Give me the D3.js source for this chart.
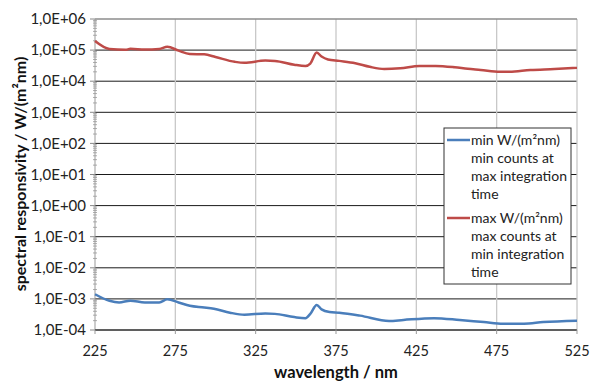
<!DOCTYPE html>
<html>
<head>
<meta charset="utf-8">
<script src="https://d3js.org/d3.v7.min.js"></script>
<style>
  body { margin: 0; background: #fff; }
  svg { display: block; font-family: Lato, "Open Sans", sans-serif; }
</style>
</head>
<body>
<svg id="chart" width="600" height="384"></svg>
<script>
// wavelength (nm) and responsivity values
const maxWave = [225, 234, 244, 247, 256, 265, 270, 277, 284, 293, 300, 312, 318, 331, 337, 349, 356, 359, 363, 366, 370, 377, 387, 396, 405, 415, 427, 437, 449, 457, 465, 477, 483, 496, 511, 525];
const maxVals = [1.95e5, 1.08e5, 1.02e5, 1.1e5, 1.04e5, 1.08e5, 1.28e5, 9.6e4, 7.5e4, 7.3e4, 6.0e4, 4.2e4, 3.9e4, 4.6e4, 4.5e4, 3.4e4, 3.1e4, 3.7e4, 8.3e4, 6.2e4, 5.0e4, 4.5e4, 3.8e4, 2.9e4, 2.46e4, 2.6e4, 3.1e4, 3.1e4, 2.8e4, 2.5e4, 2.3e4, 2.0e4, 2.0e4, 2.3e4, 2.46e4, 2.7e4];

const minWave = [225, 234, 240, 247, 256, 265, 270, 277, 284, 293, 299, 309, 318, 331, 337, 349, 356, 359, 363, 366, 371, 377, 390, 408, 417, 436, 452, 467, 479, 492, 504, 525];
const minVals = [1.41e-3, 8.7e-4, 7.7e-4, 8.8e-4, 7.7e-4, 7.7e-4, 9.7e-4, 7.7e-4, 6.0e-4, 5.3e-4, 4.8e-4, 3.6e-4, 3.1e-4, 3.4e-4, 3.3e-4, 2.6e-4, 2.4e-4, 3.3e-4, 6.4e-4, 4.6e-4, 3.8e-4, 3.6e-4, 2.9e-4, 1.94e-4, 2.1e-4, 2.4e-4, 2.1e-4, 1.8e-4, 1.6e-4, 1.6e-4, 1.8e-4, 2.0e-4];

const xTicks = [225, 275, 325, 375, 425, 475, 525];
const yTicks = [1e-4, 1e-3, 1e-2, 1e-1, 1e0, 1e1, 1e2, 1e3, 1e4, 1e5, 1e6];

const legendMin = ["min W/(m\u00b2nm)", "min counts at", "max integration", "time"];
const legendMax = ["max W/(m\u00b2nm)", "max counts at", "min integration", "time"];

const blue = "#4a7ebb";
const red = "#be4b48";

const svg = d3.select("#chart");
const plotL = 95, plotR = 577, plotT = 19, plotB = 330;

const x = d3.scaleLinear().domain([225, 525]).range([plotL, plotR]);
const y = d3.scaleLog().domain([1e-4, 1e6]).range([plotB, plotT]);

// format like 1,0E+06
function sci(v) {
  const e = Math.round(Math.log10(v));
  const s = e < 0 ? "-" : "+";
  return "1,0E" + s + String(Math.abs(e)).padStart(2, "0");
}

// horizontal grid
svg.append("g")
  .selectAll("line")
  .data(yTicks.slice(0, -1))
  .enter().append("line")
  .attr("x1", plotL).attr("x2", plotR)
  .attr("y1", d => y(d)).attr("y2", d => y(d))
  .attr("stroke", "#1a1a1a").attr("stroke-width", 1);

// vertical grid
svg.append("g")
  .selectAll("line")
  .data(xTicks.slice(1))
  .enter().append("line")
  .attr("x1", d => x(d)).attr("x2", d => x(d))
  .attr("y1", plotT).attr("y2", plotB)
  .attr("stroke", "#c8c8c8").attr("stroke-width", 1.3);

// top border
svg.append("line")
  .attr("x1", plotL).attr("x2", plotR)
  .attr("y1", y(1e6)).attr("y2", y(1e6))
  .attr("stroke", "#8c8c8c").attr("stroke-width", 1.5);

// left axis with minor ticks
const minor = [];
for (let e = -4; e < 6; e++) {
  for (let k = 2; k <= 9; k++) minor.push(k * Math.pow(10, e));
}
const yAxis = svg.append("g");
yAxis.selectAll(".minor")
  .data(minor)
  .enter().append("line")
  .attr("x1", plotL - 2).attr("x2", plotL + 2)
  .attr("y1", d => y(d)).attr("y2", d => y(d))
  .attr("stroke", "#999").attr("stroke-width", 0.8);
yAxis.selectAll(".major")
  .data(yTicks)
  .enter().append("line")
  .attr("x1", plotL - 5).attr("x2", plotL)
  .attr("y1", d => y(d)).attr("y2", d => y(d))
  .attr("stroke", "#888");
yAxis.append("line")
  .attr("x1", plotL).attr("x2", plotL)
  .attr("y1", plotT).attr("y2", plotB)
  .attr("stroke", "#999").attr("stroke-width", 1);
yAxis.selectAll("text")
  .data(yTicks)
  .enter().append("text")
  .attr("x", plotL - 9)
  .attr("y", d => y(d))
  .attr("dy", "0.35em")
  .attr("text-anchor", "end")
  .attr("font-size", 15)
  .attr("fill", "#222")
  .text(sci);

// bottom axis
const xAxis = svg.append("g");
xAxis.append("line")
  .attr("x1", plotL).attr("x2", plotR)
  .attr("y1", plotB).attr("y2", plotB)
  .attr("stroke", "#333").attr("stroke-width", 1.2);
xAxis.selectAll(".tick")
  .data(xTicks)
  .enter().append("line")
  .attr("x1", d => x(d)).attr("x2", d => x(d))
  .attr("y1", plotB).attr("y2", plotB + 4)
  .attr("stroke", "#999");
xAxis.selectAll("text")
  .data(xTicks)
  .enter().append("text")
  .attr("x", d => x(d))
  .attr("y", 356)
  .attr("text-anchor", "middle")
  .attr("font-size", 14.5)
  .attr("fill", "#222")
  .text(d => d);

// curves
const line = d3.line().x(d => x(d[0])).y(d => y(d[1])).curve(d3.curveMonotoneX);
svg.append("path")
  .datum(d3.zip(maxWave, maxVals))
  .attr("d", line)
  .attr("fill", "none")
  .attr("stroke", red)
  .attr("stroke-width", 2.5);
svg.append("path")
  .datum(d3.zip(minWave, minVals))
  .attr("d", line)
  .attr("fill", "none")
  .attr("stroke", blue)
  .attr("stroke-width", 2.5);

// axis titles
svg.append("text")
  .attr("x", 336).attr("y", 378)
  .attr("text-anchor", "middle")
  .attr("font-size", 16.5).attr("font-weight", "bold")
  .attr("fill", "#111")
  .text("wavelength / nm");
svg.append("text")
  .attr("transform", "translate(26,174) rotate(-90)")
  .attr("text-anchor", "middle")
  .attr("font-size", 16).attr("font-weight", "bold")
  .attr("fill", "#111")
  .text("spectral responsivity / W/(m\u00b2nm)");

// legend
const lg = svg.append("g").attr("transform", "translate(444,128)");
lg.append("rect")
  .attr("width", 127).attr("height", 156)
  .attr("fill", "#fff").attr("stroke", "#333").attr("stroke-width", 1);
const groups = [
  { color: blue, lines: legendMin, y0: 12 },
  { color: red, lines: legendMax, y0: 90 }
];
groups.forEach(g => {
  lg.append("line")
    .attr("x1", 3).attr("x2", 26)
    .attr("y1", g.y0).attr("y2", g.y0)
    .attr("stroke", g.color).attr("stroke-width", 2.5);
  lg.selectAll(null)
    .data(g.lines)
    .enter().append("text")
    .attr("x", 27)
    .attr("y", (d, i) => g.y0 + i * 18)
    .attr("dy", "0.35em")
    .attr("font-size", 14)
    .attr("fill", "#222")
    .text(d => d);
});
</script>
</body>
</html>
